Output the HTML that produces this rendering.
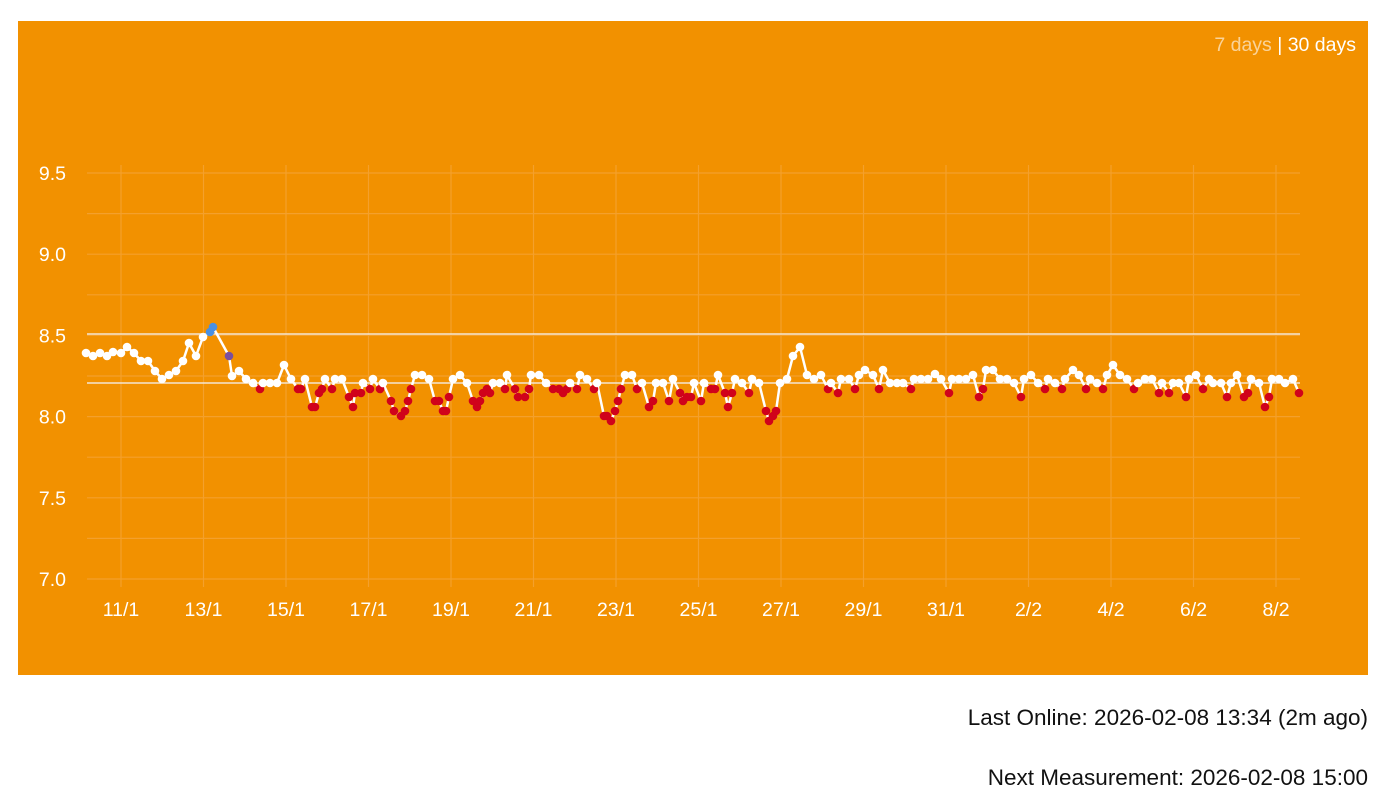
<!DOCTYPE html>
<html><head><meta charset="utf-8"><style>
body{margin:0;background:#fff;width:1385px;height:794px;overflow:hidden;font-family:"Liberation Sans",Arial,sans-serif;}
.foot{position:absolute;right:17px;font-size:22.5px;color:#111;}
</style></head><body>
<svg id="c" width="1385" height="794" style="position:absolute;left:0;top:0" font-family="Liberation Sans, Arial, sans-serif">
<rect x="18" y="21" width="1350" height="654" fill="#F29100"/>
<g id="grid"></g>
<line x1="87" y1="334" x2="1300" y2="334" stroke="#f3e6d3" stroke-width="1.5"/>
<line x1="87" y1="383" x2="1300" y2="383" stroke="#f3e6d3" stroke-width="1.5"/>
<g id="lbl" fill="#fff" font-size="19.5"></g>
<polyline id="ln" fill="none" stroke="#fff" stroke-width="2.5" stroke-linejoin="round"/>
<g id="pts"></g>
<text x="1356" y="51" text-anchor="end" font-size="19.5" fill="#fff"><tspan fill-opacity="0.6">7 days</tspan> | 30 days</text>
</svg>
<div class="foot" style="top:705px">Last Online: 2026-02-08 13:34 (2m ago)</div>
<div class="foot" style="top:765px">Next Measurement: 2026-02-08 15:00</div>
<script>
var d=[86,353,93,356,100,353,107,356,113,352,121,353,127,347,134,353,141,361,148,361,155,371,162,379,169,375,176,371,183,361,189,343,196,356,203,337,210,332,213,327,229,356,232,376,239,371,246,379,253,383,260,389,263,383,270,383,277,383,284,365,291,379,298,389,301,389,305,379,312,407,315,407,319,393,322,389,325,379,332,389,335,379,342,379,349,397,353,407,355,393,361,393,363,383,370,389,373,379,380,389,383,383,391,401,394,411,401,416,405,411,408,401,411,389,415,375,422,375,429,379,435,401,439,401,443,411,446,411,449,397,453,379,460,375,467,383,473,401,477,407,480,401,483,393,487,389,493,383,490,393,500,383,505,389,507,375,515,389,518,397,525,397,529,389,531,375,539,375,546,383,553,389,559,389,563,393,567,389,570,383,577,389,580,375,587,379,594,389,597,383,604,416,607,416,611,421,615,411,618,401,621,389,625,375,632,375,637,389,642,383,649,407,653,401,656,383,663,383,669,401,673,379,680,393,683,401,687,397,691,397,694,383,701,401,704,383,711,389,715,389,718,375,725,393,728,407,732,393,735,379,742,383,749,393,752,379,759,383,766,411,769,421,773,416,776,411,780,383,787,379,793,356,800,347,807,375,814,379,821,375,828,389,831,383,838,393,841,379,849,379,855,389,859,375,865,370,873,375,879,389,883,370,890,383,897,383,903,383,911,389,914,379,921,379,928,379,935,374,941,379,949,393,952,379,959,379,966,379,973,375,979,397,983,389,986,370,993,370,1000,379,1007,379,1014,383,1021,397,1024,379,1031,375,1038,383,1045,389,1048,379,1055,383,1062,389,1065,379,1073,370,1079,375,1086,389,1090,379,1097,383,1103,389,1107,375,1113,365,1120,375,1127,379,1134,389,1138,383,1145,379,1152,379,1159,393,1162,383,1169,393,1173,383,1179,383,1186,397,1189,379,1196,375,1203,389,1209,379,1213,383,1221,383,1227,397,1231,383,1237,375,1244,397,1248,393,1251,379,1259,383,1265,407,1269,397,1272,379,1279,379,1285,383,1293,379,1299,393];
var NS="http://www.w3.org/2000/svg";
function el(t,a,p){var e=document.createElementNS(NS,t);for(var k in a)e.setAttribute(k,a[k]);p.appendChild(e);return e;}
var P=[];for(var i=0;i<d.length;i+=2)P.push([d[i],d[i+1]]);
P.sort(function(a,b){return a[0]-b[0];});
document.getElementById('ln').setAttribute('points',P.map(function(p){return p.join(',')}).join(' '));
var g=document.getElementById('grid'),L=document.getElementById('lbl'),pts=document.getElementById('pts');
for(var v=0;v<=10;v++){var y=579-v*40.6;el('line',{x1:87,x2:1300,y1:y,y2:y,stroke:'#f4a02c','stroke-width':1.2},g);
 if(v%2==0){var t=el('text',{x:66,y:y+7,'text-anchor':'end'},L);t.textContent=(7+v*0.25).toFixed(1);}}
var xl=['11/1','13/1','15/1','17/1','19/1','21/1','23/1','25/1','27/1','29/1','31/1','2/2','4/2','6/2','8/2'];
for(var i=0;i<xl.length;i++){var x=121+i*82.5;el('line',{x1:x,x2:x,y1:165,y2:587,stroke:'#f4a02c','stroke-width':1.2},g);
 var t=el('text',{x:x,y:616,'text-anchor':'middle'},L);t.textContent=xl[i];}
P.forEach(function(p){var c='#fff';if(p[1]<334)c='#4a90e2';else if(p[0]==229)c='#7b4f9d';else if(p[1]>384)c='#d0021b';
 el('circle',{cx:p[0],cy:p[1],r:4.3,fill:c},pts);});
</script>
</body></html>
